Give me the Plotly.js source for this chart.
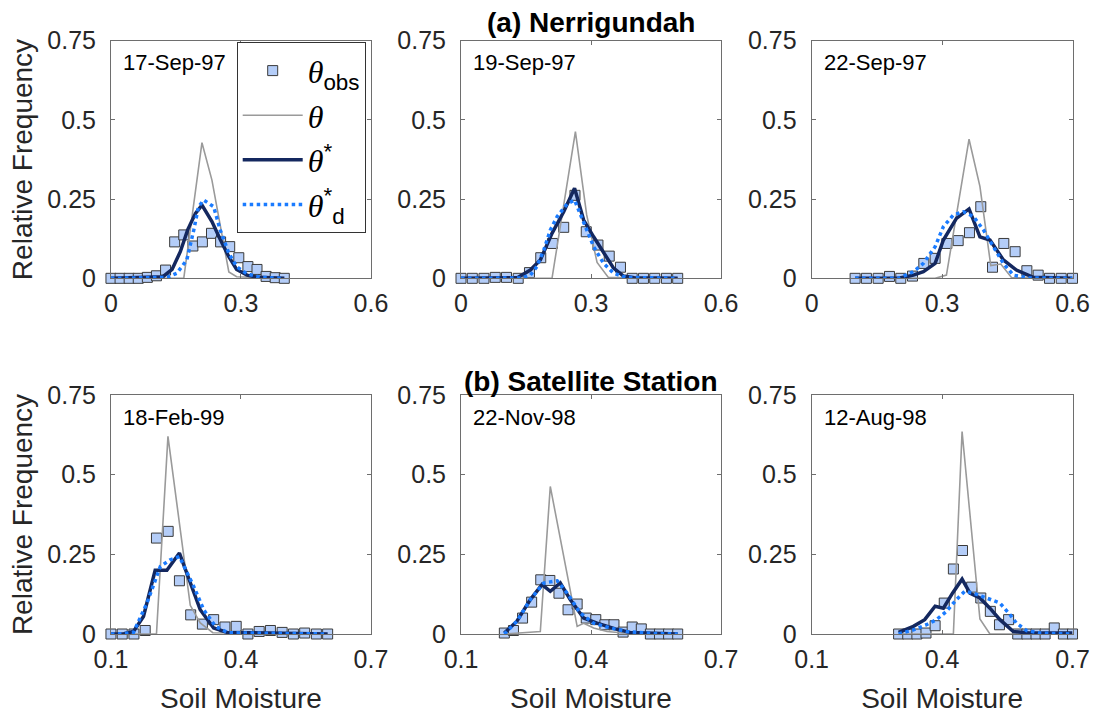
<!DOCTYPE html>
<html>
<head>
<meta charset="utf-8">
<script src="https://cdn.plot.ly/plotly-3.0.1.min.js"></script>
<style>html,body{margin:0;padding:0;background:#fff;}#chart{width:1096px;height:717px;}</style>
</head>
<body>
<div id="chart"></div>
<script>
// ---------- Data ----------
const panelDates = ["17-Sep-97", "19-Sep-97", "22-Sep-97", "18-Feb-99", "22-Nov-98", "12-Aug-98"];
const sectionTitles = ["(a) Nerrigundah", "(b) Satellite Station"];
const topTickVals = [0, 0.3, 0.6];
const bottomTickVals = [0.1, 0.4, 0.7];
const yTickVals = [0, 0.25, 0.5, 0.75];
const yTickText = ["0", "0.25", "0.5", "0.75"];

// Panel 1: 17-Sep-97
const obsX1 = [0,0.021,0.042,0.063,0.084,0.105,0.126,0.147,0.168,0.189,0.211,0.232,0.253,0.274,0.295,0.316,0.337,0.358,0.379,0.4];
const obsY1 = [0,0,0,0,0.003,0.008,0.026,0.115,0.137,0.102,0.115,0.142,0.115,0.1,0.065,0.037,0.028,0.006,0.002,0];
const thX1 = [0,0.168,0.21,0.233,0.272,0.29,0.4];
const thY1 = [0,0,0.428,0.31,0.02,0.005,0];
const starX1 = [0,0.12,0.141,0.16,0.177,0.195,0.21,0.233,0.252,0.272,0.29,0.314,0.34,0.4];
const starY1 = [0,0.005,0.028,0.084,0.153,0.205,0.231,0.179,0.123,0.068,0.028,0.01,0.003,0];
const dX1 = [0,0.13,0.152,0.175,0.191,0.202,0.214,0.237,0.252,0.272,0.29,0.314,0.345,0.4];
const dY1 = [0,0.003,0.016,0.058,0.152,0.226,0.247,0.226,0.153,0.079,0.037,0.014,0.003,0];

// Panel 2: 19-Sep-97
const obsX2 = [0,0.026,0.053,0.079,0.105,0.132,0.158,0.184,0.211,0.237,0.263,0.289,0.316,0.342,0.368,0.395,0.421,0.447,0.474,0.5];
const obsY2 = [0,0,0,0.003,0.003,0,0.018,0.065,0.11,0.161,0.262,0.147,0.105,0.07,0.035,0,0,0,0,0];
const thX2 = [0,0.21,0.264,0.29,0.314,0.34,0.5];
const thY2 = [0,0,0.463,0.2,0.05,0.003,0];
const starX2 = [0,0.13,0.16,0.183,0.21,0.237,0.262,0.283,0.306,0.329,0.352,0.375,0.4,0.5];
const starY2 = [0,0.002,0.026,0.058,0.142,0.21,0.284,0.184,0.131,0.079,0.032,0.007,0.002,0];
const dX2 = [0,0.14,0.16,0.175,0.191,0.206,0.222,0.245,0.262,0.283,0.306,0.329,0.352,0.38,0.5];
const dY2 = [0,0.001,0.01,0.037,0.089,0.152,0.195,0.235,0.247,0.179,0.1,0.047,0.016,0.003,0];

// Panel 3: 22-Sep-97
const obsX3 = [0.1,0.126,0.153,0.179,0.205,0.232,0.258,0.284,0.311,0.337,0.363,0.389,0.416,0.442,0.468,0.495,0.521,0.547,0.574,0.6];
const obsY3 = [0,0,0,0.006,0,0.007,0.047,0.063,0.11,0.119,0.144,0.226,0.035,0.11,0.084,0.024,0.01,0,0,0];
const thX3 = [0.1,0.284,0.31,0.362,0.387,0.412,0.435,0.46,0.6];
const thY3 = [0,0,0.01,0.439,0.29,0.04,0.045,0.002,0];
const starX3 = [0.1,0.2,0.234,0.257,0.284,0.303,0.333,0.362,0.387,0.41,0.441,0.471,0.51,0.6];
const starY3 = [0,0,0.01,0.021,0.047,0.121,0.189,0.219,0.131,0.121,0.058,0.026,0.003,0];
const dX3 = [0.1,0.2,0.234,0.257,0.284,0.303,0.326,0.349,0.372,0.395,0.418,0.441,0.464,0.5,0.6];
const dY3 = [0,0,0.021,0.047,0.1,0.163,0.2,0.21,0.195,0.153,0.1,0.047,0.01,0.001,0];

// Panel 4: 18-Feb-99
const obsX4 = [0.1,0.126,0.153,0.179,0.205,0.232,0.258,0.284,0.311,0.337,0.363,0.389,0.416,0.442,0.468,0.495,0.521,0.547,0.574,0.6];
const obsY4 = [0,0,0,0.011,0.301,0.322,0.167,0.06,0.031,0.045,0.022,0.024,0,0.008,0.011,0.005,0,0.003,0,0];
const thX4 = [0.1,0.205,0.2315,0.283,0.306,0.335,0.6];
const thY4 = [0,0,0.62,0.09,0.035,0.004,0];
const starX4 = [0.1,0.13,0.152,0.175,0.202,0.229,0.258,0.283,0.306,0.337,0.368,0.6];
const starY4 = [0,0.001,0.008,0.055,0.2,0.2,0.254,0.16,0.076,0.019,0.005,0];
const dX4 = [0.1,0.13,0.152,0.183,0.214,0.237,0.258,0.291,0.314,0.341,0.37,0.6];
const dY4 = [0,0.001,0.005,0.097,0.212,0.233,0.243,0.149,0.076,0.024,0.004,0];

// Panel 5: 22-Nov-98
const obsX5 = [0.2,0.221,0.242,0.263,0.284,0.305,0.326,0.347,0.368,0.389,0.411,0.432,0.453,0.474,0.495,0.516,0.537,0.558,0.579,0.6];
const obsY5 = [0.003,0.011,0.05,0.1,0.17,0.168,0.128,0.076,0.094,0.05,0.045,0.029,0.029,0.006,0.022,0.016,0,0,0,0];
const thX5 = [0.2,0.283,0.306,0.368,0.383,0.406,0.437,0.475,0.6];
const thY5 = [0,0.008,0.463,0.024,0.034,0.019,0.008,0.003,0];
const starX5 = [0.2,0.229,0.26,0.287,0.306,0.329,0.352,0.383,0.414,0.456,0.49,0.6];
const starY5 = [0.003,0.04,0.108,0.155,0.134,0.16,0.108,0.05,0.034,0.016,0.005,0];
const dX5 = [0.2,0.229,0.26,0.291,0.322,0.345,0.375,0.406,0.444,0.482,0.537,0.6];
const dY5 = [0,0.04,0.108,0.16,0.167,0.128,0.066,0.034,0.019,0.008,0.002,0];

// Panel 6: 12-Aug-98
const obsX6 = [0.3,0.321,0.342,0.363,0.384,0.405,0.426,0.447,0.468,0.489,0.511,0.532,0.553,0.574,0.595,0.616,0.637,0.658,0.679,0.7];
const obsY6 = [0,0,0,0.003,0.026,0.097,0.204,0.262,0.147,0.113,0.071,0.029,0.045,0,0,0,0,0.019,0,0];
const thX6 = [0.3,0.426,0.446,0.487,0.51,0.7];
const thY6 = [0,0,0.635,0.047,0,0];
const starX6 = [0.3,0.334,0.36,0.384,0.403,0.424,0.446,0.464,0.487,0.51,0.533,0.564,0.6,0.7];
const starY6 = [0.005,0.024,0.045,0.087,0.081,0.128,0.172,0.128,0.113,0.081,0.045,0.008,0.003,0.003];
const dX6 = [0.3,0.334,0.364,0.387,0.41,0.433,0.452,0.472,0.502,0.533,0.556,0.571,0.594,0.625,0.7];
const dY6 = [0,0.013,0.029,0.045,0.071,0.108,0.134,0.128,0.113,0.097,0.061,0.034,0.011,0.003,0];

const legendNames = [
  "<span style='font-family:Liberation Serif'><i>θ</i></span><sub>obs</sub>",
  "<span style='font-family:Liberation Serif'><i>θ</i></span>",
  "<span style='font-family:Liberation Serif'><i>θ</i></span><sup>*</sup>",
  "<span style='font-family:Liberation Serif'><i>θ</i></span><sup>*</sup><sub>d</sub>"
];

// ---------- Build ----------
const panels = [
  [obsX1, obsY1, thX1, thY1, starX1, starY1, dX1, dY1],
  [obsX2, obsY2, thX2, thY2, starX2, starY2, dX2, dY2],
  [obsX3, obsY3, thX3, thY3, starX3, starY3, dX3, dY3],
  [obsX4, obsY4, thX4, thY4, starX4, starY4, dX4, dY4],
  [obsX5, obsY5, thX5, thY5, starX5, starY5, dX5, dY5],
  [obsX6, obsY6, thX6, thY6, starX6, starY6, dX6, dY6]
];

const FONT = "'Liberation Sans', Arial, sans-serif";
const TXT = "#262626";
const AXC = "#6e6e6e";
const SQ_FILL = "rgb(180,205,248)";
const SQ_EDGE = "#3a3a3a";
const GRAY = "#9a9a9a";
const NAVY = "#14285f";
const BLUE = "#1a7bff";

const traces = [];
panels.forEach((p, i) => {
  const n = i + 1;
  const xa = n === 1 ? "x" : "x" + n;
  const ya = n === 1 ? "y" : "y" + n;
  const show = i === 0;
  traces.push({x: p[0], y: p[1], xaxis: xa, yaxis: ya, type: "scatter", mode: "markers",
    name: legendNames[0], showlegend: show, cliponaxis: false,
    marker: {symbol: "square", size: 10, color: SQ_FILL, line: {color: SQ_EDGE, width: 1}}});
  traces.push({x: p[2], y: p[3], xaxis: xa, yaxis: ya, type: "scatter", mode: "lines",
    name: legendNames[1], showlegend: show, line: {color: GRAY, width: 1.6}});
  traces.push({x: p[4], y: p[5], xaxis: xa, yaxis: ya, type: "scatter", mode: "lines",
    name: legendNames[2], showlegend: show, line: {color: NAVY, width: 3.5}});
  traces.push({x: p[6], y: p[7], xaxis: xa, yaxis: ya, type: "scatter", mode: "lines",
    name: legendNames[3], showlegend: show, line: {color: BLUE, width: 3.5, dash: "dot"}});
});

const xDomains = [[0.001, 0.271], [0.3645, 0.6345], [0.7286, 0.9995]];
const yDomains = [[0.5988, 0.9988], [0, 0.4024]];

const layout = {
  width: 1096, height: 717,
  margin: {l: 110, r: 23, t: 40, b: 83},
  paper_bgcolor: "#fff", plot_bgcolor: "#fff",
  font: {family: FONT, color: TXT, size: 25},
  showlegend: true,
  legend: {
    x: (236.7 - 110) / 963, y: (634 - 42.3) / 594, xanchor: "left", yanchor: "top",
    bgcolor: "#fff", bordercolor: "#333", borderwidth: 1,
    font: {family: FONT, size: 32, color: "#000"}, itemwidth: 60, tracegroupgap: 0
  },
  annotations: [],
  hovermode: false
};

for (let i = 0; i < 6; i++) {
  const n = i + 1;
  const row = i < 3 ? 0 : 1;
  const col = i % 3;
  const xk = n === 1 ? "xaxis" : "xaxis" + n;
  const yk = n === 1 ? "yaxis" : "yaxis" + n;
  const ticks = row === 0 ? topTickVals : bottomTickVals;
  layout[xk] = {
    domain: xDomains[col], anchor: n === 1 ? "y" : "y" + n,
    range: row === 0 ? [0, 0.6] : [0.1, 0.7],
    tickvals: ticks, ticktext: ticks.map(String),
    ticks: "inside", ticklen: 4, tickcolor: AXC, mirror: "ticks",
    showline: true, linecolor: AXC, linewidth: 1, showgrid: false, zeroline: false,
    tickfont: {size: 25, color: TXT}, ticklabelstandoff: 3
  };
  if (row === 1) layout[xk].title = {text: "Soil Moisture", font: {size: 28, color: TXT}, standoff: 16};
  layout[yk] = {
    domain: yDomains[row], anchor: n === 1 ? "x" : "x" + n,
    range: [0, 0.75],
    tickvals: yTickVals, ticktext: yTickText,
    ticks: "inside", ticklen: 4, tickcolor: AXC, mirror: "ticks",
    showline: true, linecolor: AXC, linewidth: 1, showgrid: false, zeroline: false,
    tickfont: {size: 25, color: TXT}, ticklabelstandoff: 9
  };
  if (col === 0) layout[yk].title = {text: "Relative Frequency", font: {size: 28, color: TXT}, standoff: 6};
  layout.annotations.push({
    xref: (n === 1 ? "x" : "x" + n) + " domain", yref: (n === 1 ? "y" : "y" + n) + " domain",
    x: 0.04, y: 1 - 22 / 238, xanchor: "left", yanchor: "middle", showarrow: false,
    text: panelDates[i], font: {size: 22, color: "#000", family: FONT}
  });
}
layout.annotations.push({xref: "paper", yref: "paper", x: 0.4995, y: (634 - 22) / 594, xanchor: "center", yanchor: "middle",
  showarrow: false, text: "<b>" + sectionTitles[0] + "</b>", font: {size: 28, color: "#000", family: FONT}});
layout.annotations.push({xref: "paper", yref: "paper", x: 0.4995, y: (634 - 381) / 594, xanchor: "center", yanchor: "middle",
  showarrow: false, text: "<b>" + sectionTitles[1] + "</b>", font: {size: 28, color: "#000", family: FONT}});

Plotly.newPlot("chart", traces, layout, {displayModeBar: false, staticPlot: true});
</script>
</body>
</html>
